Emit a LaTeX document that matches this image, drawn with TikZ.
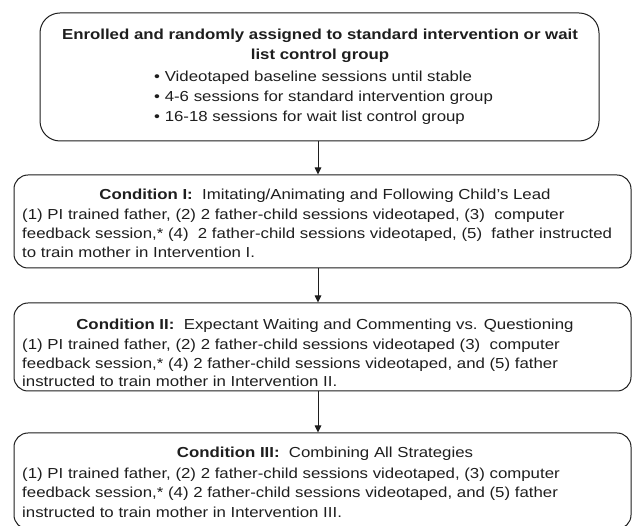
\documentclass[tikz,border=0pt]{standalone}
\usepackage{fontspec}
\setmainfont{Liberation Sans}
\usetikzlibrary{arrows.meta}
\definecolor{ink}{HTML}{1E1E1E}
\tikzset{
  box/.style={draw=ink, line width=1pt, inner sep=0pt},
  topbox/.style={box, rounded corners=20pt},
  condbox/.style={box, rounded corners=14pt},
  txt/.style={inner sep=0pt, text=ink, font=\fontsize{14.5}{19}\selectfont, xscale=1.16, transform shape},
  ltxt/.style={txt, anchor=base west},
  ctxt/.style={txt, anchor=base},
  arr/.style={draw=ink, line width=0.9pt, -{Triangle[width=6.5pt,length=7pt]}}
}
\begin{document}
\begin{tikzpicture}[x=1pt,y=-1pt]
\useasboundingbox (0,0) rectangle (633,526);
\fill[white] (0,0) rectangle (633,526);

% top box
\node[topbox, minimum width=559pt, minimum height=128pt] (b0) at (319.5,77) {};
\node[ctxt] (t01) at (320,40) {\textbf{Enrolled and randomly assigned to standard intervention or wait}};
\node[ctxt] (t02) at (320,60) {\textbf{list control group}};
\node[ltxt] (t03) at (154,82) {\textbullet\ Videotaped baseline sessions until stable};
\node[ltxt] (t04) at (154,102) {\textbullet\ 4-6 sessions for standard intervention group};
\node[ltxt] (t05) at (154,122) {\textbullet\ 16-18 sessions for wait list control group};

% condition I
\node[condbox, minimum width=617pt, minimum height=93pt] (c1) at (322.5,221.5) {};
\node[ctxt] (t11) at (325,200) {\textbf{Condition I:}\ \ Imitating/Animating and Following Child’s Lead};
\node[ltxt] (t12) at (22,220) {(1) PI trained father, (2) 2 father-child sessions videotaped, (3)\ \ computer};
\node[ltxt] (t13) at (22,239) {feedback session,* (4)\ \ 2 father-child sessions videotaped, (5)\ \ father instructed};
\node[ltxt] (t14) at (22,258) {to train mother in Intervention I.};

% condition II
\node[condbox, minimum width=617pt, minimum height=88pt] (c2) at (322.5,347) {};
\node[ctxt] (t21) at (325,330) {\textbf{Condition II:}\ \ Expectant Waiting and Commenting vs. Questioning};
\node[ltxt] (t22) at (22,350) {(1) PI trained father, (2) 2 father-child sessions videotaped (3)\ \ computer};
\node[ltxt] (t23) at (22,368.5) {feedback session,* (4) 2 father-child sessions videotaped, and (5) father};
\node[ltxt] (t24) at (22,387) {instructed to train mother in Intervention II.};

% condition III
\node[condbox, minimum width=617pt, minimum height=96pt] (c3) at (322.5,481) {};
\node[ctxt] (t31) at (325,458) {\textbf{Condition III:}\ \ Combining All Strategies};
\node[ltxt] (t32) at (22,479) {(1) PI trained father, (2) 2 father-child sessions videotaped, (3) computer};
\node[ltxt] (t33) at (22,498) {feedback session,* (4) 2 father-child sessions videotaped, and (5) father};
\node[ltxt] (t34) at (22,518) {instructed to train mother in Intervention III.};

% arrows
\draw[arr] ([xshift=-1.5pt]b0.south) -- ([xshift=-1.5pt]b0.south |- c1.north);
\draw[arr] ([xshift=-4.5pt]c1.south) -- ([xshift=-4.5pt]c1.south |- c2.north);
\draw[arr] ([xshift=-4.5pt]c2.south) -- ([xshift=-4.5pt]c2.south |- c3.north);
\end{tikzpicture}
\end{document}
